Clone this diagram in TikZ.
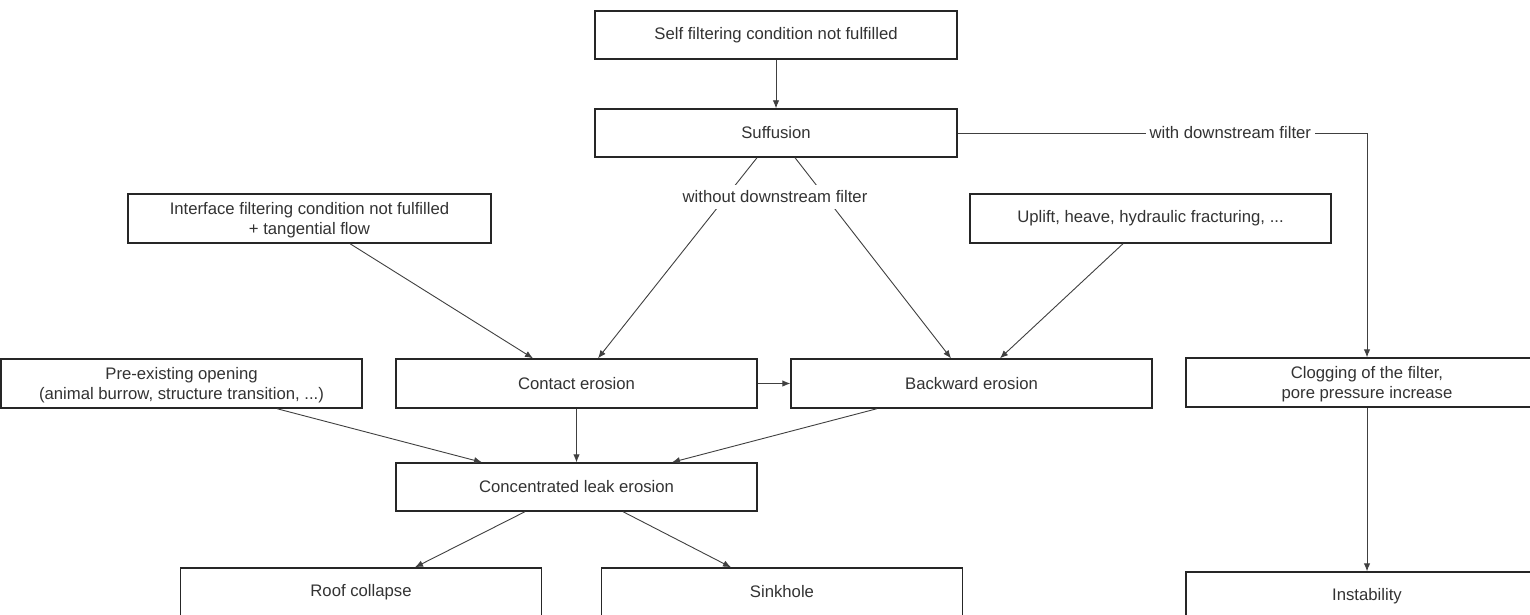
\documentclass[tikz,border=0pt]{standalone}
\usepackage{fontspec}
\setmainfont{Liberation Sans}
\usetikzlibrary{arrows.meta,calc}
\begin{document}
\begin{tikzpicture}[x=1pt,y=-1pt,
  txt/.style={text=black!80, font=\fontsize{16.7}{20}\selectfont},
  box/.style={txt, draw=black!85, line width=1.4pt, fill=white, minimum height=48pt, minimum width=361pt, inner sep=0pt, align=center},
  twoline/.style={text depth=-1pt},
  conn/.style={draw=black!75, line width=0.9pt, -{Latex[length=8pt,width=6.5pt]}},
  lbl/.style={txt, fill=white, inner xsep=4pt, inner ysep=6pt}
]
\useasboundingbox (0,0) rectangle (1530,615);
\fill[white] (0,0) rectangle (1530,615);

\node[box, minimum width=362pt] (self) at (776,35) {Self filtering condition not fulfilled};
\node[box, minimum width=362pt] (suff) at (776,133) {Suffusion};
\node[box, twoline, minimum width=363pt, minimum height=49pt] (inter) at (309.5,218.5) {Interface filtering condition not fulfilled\\+ tangential flow};
\node[box, minimum height=49pt] (uplift) at (1150.5,218.5) {Uplift, heave, hydraulic fracturing, ...};
\node[box, twoline, minimum height=49pt] (pre) at (181.5,383.5) {Pre-existing opening\\(animal burrow, structure transition, ...)};
\node[box, minimum height=49pt] (contact) at (576.5,383.5) {Contact erosion};
\node[box, minimum height=49pt] (backward) at (971.5,383.5) {Backward erosion};
\node[box, twoline, minimum width=362pt, minimum height=49pt] (clog) at (1367,382.5) {Clogging of the filter,\\pore pressure increase};
\node[box] (conc) at (576.5,487) {Concentrated leak erosion};
\node[box] (roof) at (361,592) {Roof collapse};
\node[box] (sink) at (782,592) {Sinkhole};
\node[box, minimum width=362pt] (inst) at (1367,596) {Instability};

\draw[conn] (self) -- (suff);
\draw[conn] ([xshift=-19pt]suff.south) -- ([xshift=21.5pt]contact.north);
\draw[conn] ([xshift=19pt]suff.south) -- ([xshift=-20.5pt]backward.north);
\node[lbl] (wo) at (775,197) {without downstream filter};
\draw[conn] (suff.east) -| (clog.north) node[lbl, pos=0.333] (wi) {with downstream filter};
\draw[conn] ([xshift=40.5pt]inter.south) -- ([xshift=-43.5pt]contact.north);
\draw[conn] ([xshift=-27.5pt]uplift.south) -- ([xshift=28.5pt]backward.north);
\draw[conn] (contact.east) -- (backward.west);
\draw[conn] ([xshift=95.5pt]pre.south) -- ([xshift=-94.5pt]conc.north);
\draw[conn] (contact) -- (conc);
\draw[conn] ([xshift=-94.5pt]backward.south) -- ([xshift=95.5pt]conc.north);
\draw[conn] ([xshift=-51.5pt]conc.south) -- ([xshift=54pt]roof.north);
\draw[conn] ([xshift=46.5pt]conc.south) -- ([xshift=-51pt]sink.north);
\draw[conn] (clog) -- (inst);
\end{tikzpicture}
\end{document}
